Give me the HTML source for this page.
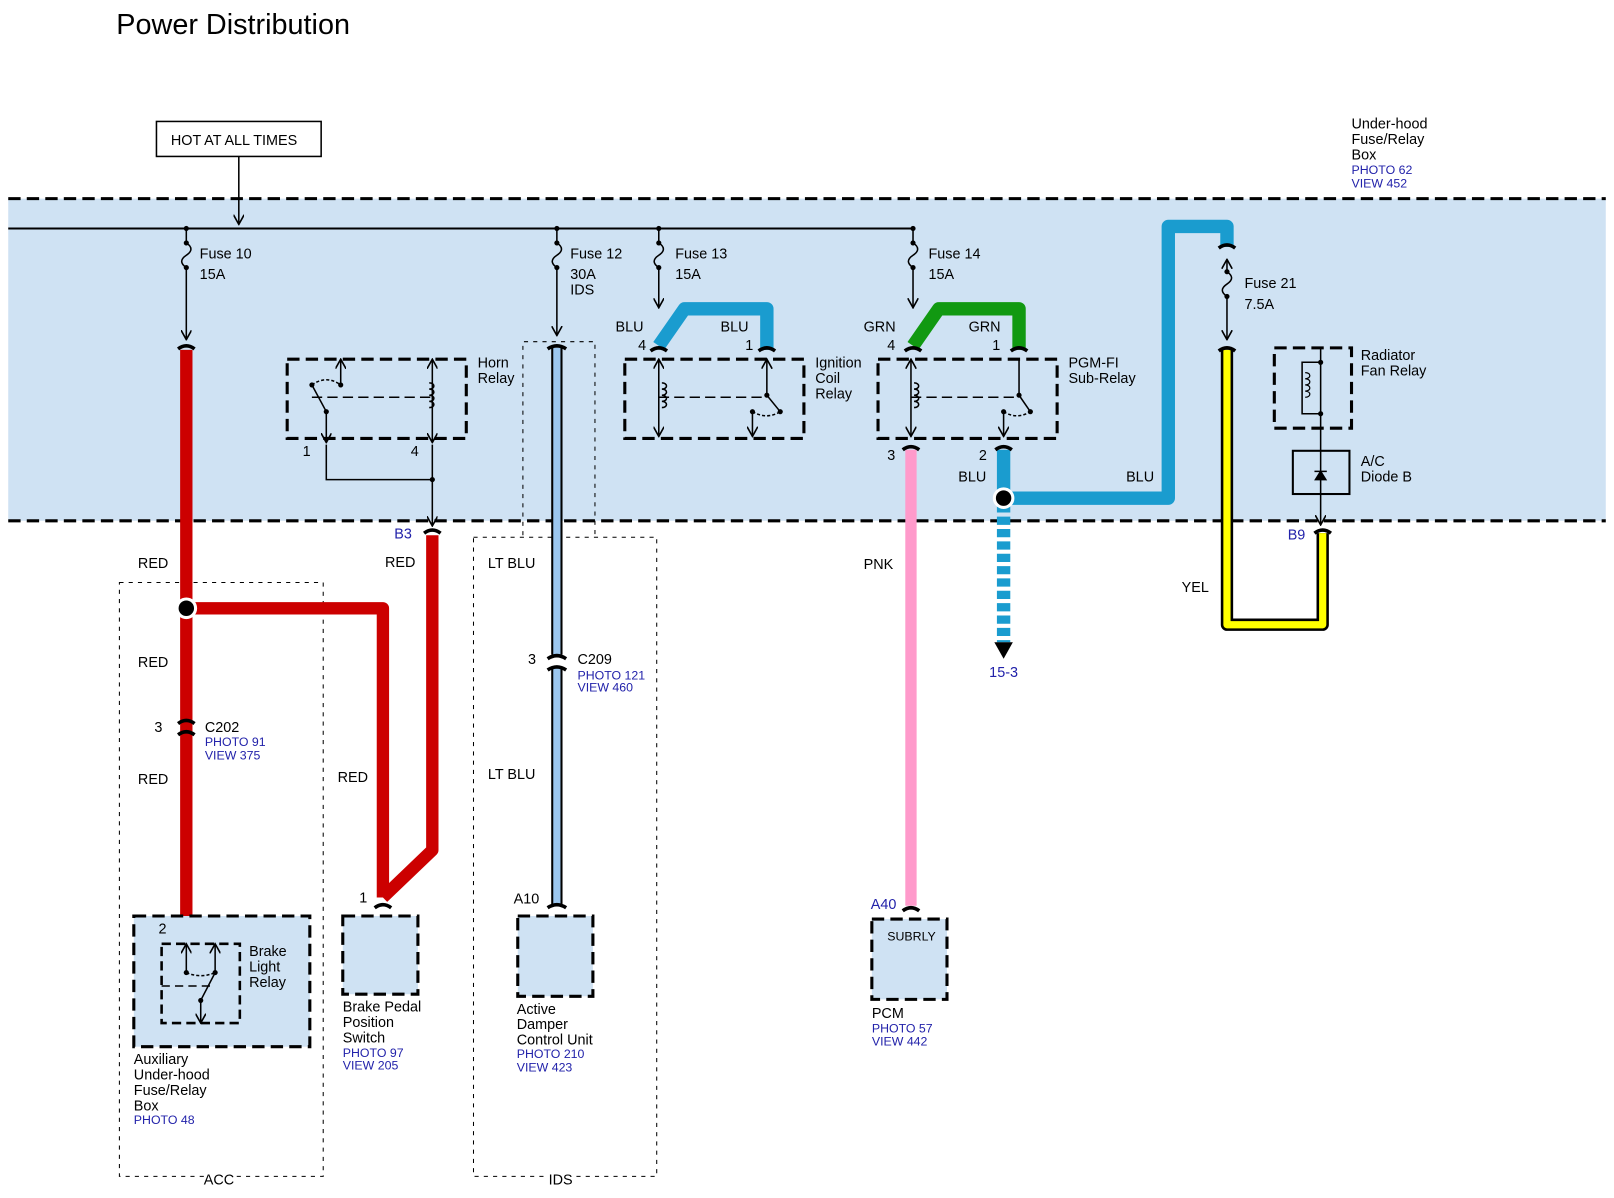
<!DOCTYPE html>
<html><head><meta charset="utf-8"><style>
html,body{margin:0;padding:0;background:#fff;}
svg{display:block;}
text{font-family:"Liberation Sans",Arial,sans-serif;font-size:14px;fill:#000;}
.b{fill:#2222aa;font-size:12px;}
.d{fill:none;stroke:#000;stroke-width:3;stroke-dasharray:12,6;}
.t{fill:none;stroke:#000;stroke-width:1;stroke-dasharray:4,5;}
.l{fill:none;stroke:#000;stroke-width:1.5;}
.c{fill:none;stroke:#000;stroke-width:3.5;}
</style></head><body>
<svg width="1614" height="1198" viewBox="0 0 1568 1164" preserveAspectRatio="none" xmlns="http://www.w3.org/2000/svg">
<defs>
<marker id="a" viewBox="0 0 10 10" refX="9" refY="5" markerWidth="7" markerHeight="7" orient="auto-start-reverse"><path d="M0 0 L9 5 L0 10" fill="none" stroke="#000" stroke-width="1.5"/></marker>
</defs>
<text x="113" y="33" style="font-size:28px">Power Distribution</text>
<rect x="8" y="193" width="1552" height="313" fill="#cfe2f3"/>
<line x1="8" y1="193" x2="1560" y2="193" class="d"/>
<line x1="8" y1="506" x2="1560" y2="506" class="d"/>
<rect x="152" y="118" width="160" height="34" fill="#fff" stroke="#000" stroke-width="1.5"/>
<text x="166" y="141">HOT AT ALL TIMES</text>
<line x1="232" y1="152" x2="232" y2="218" class="l" marker-end="url(#a)"/>
<text x="1313" y="125">Under-hood</text><text x="1313" y="140">Fuse/Relay</text><text x="1313" y="155">Box</text>
<text x="1313" y="169" class="b">PHOTO 62</text><text x="1313" y="182" class="b">VIEW 452</text>
<line x1="8" y1="222" x2="887" y2="222" stroke="#000" stroke-width="2"/>
<g class="l">
<path d="M181 222 V236 c6 4 6 8 0 12 c-6 4 -6 8 0 12 V330" marker-end="url(#a)"/>
<path d="M541 222 V236 c6 4 6 8 0 12 c-6 4 -6 8 0 12 V326" marker-end="url(#a)"/>
<path d="M640 222 V236 c6 4 6 8 0 12 c-6 4 -6 8 0 12 V299" marker-end="url(#a)"/>
<path d="M887 222 V236 c6 4 6 8 0 12 c-6 4 -6 8 0 12 V299" marker-end="url(#a)"/>
<path d="M1192 252 V264 c6 4 6 8 0 12 c-6 4 -6 8 0 12 V330" marker-end="url(#a)" marker-start="url(#a)"/>
</g>
<g fill="#000"><circle cx="181" cy="222" r="2.5"/><circle cx="541" cy="222" r="2.5"/><circle cx="640" cy="222" r="2.5"/><circle cx="887" cy="222" r="2.5"/>
<circle cx="181" cy="236" r="2.5"/><circle cx="181" cy="260" r="2.5"/><circle cx="541" cy="236" r="2.5"/><circle cx="541" cy="260" r="2.5"/><circle cx="640" cy="236" r="2.5"/><circle cx="640" cy="260" r="2.5"/><circle cx="887" cy="236" r="2.5"/><circle cx="887" cy="260" r="2.5"/><circle cx="1192" cy="264" r="2.5"/><circle cx="1192" cy="288" r="2.5"/></g>
<text x="194" y="251">Fuse 10</text><text x="194" y="271">15A</text>
<text x="554" y="251">Fuse 12</text><text x="554" y="271">30A</text><text x="554" y="286">IDS</text>
<text x="656" y="251">Fuse 13</text><text x="656" y="271">15A</text>
<text x="902" y="251">Fuse 14</text><text x="902" y="271">15A</text>
<text x="1209" y="280">Fuse 21</text><text x="1209" y="300">7.5A</text>
<path d="M508 520 V332 H578 V520" class="t"/>
<rect x="460" y="522" width="178" height="621" class="t"/>
<rect x="116" y="566" width="198" height="577" class="t"/>
<rect x="200" y="1138" width="26" height="12" fill="#fff"/><text x="198" y="1151">ACC</text>
<rect x="530" y="1138" width="28" height="12" fill="#fff"/><text x="533" y="1151">IDS</text>
<g fill="none" stroke="#cc0000" stroke-width="12" stroke-linejoin="round">
<path d="M181 340 V906"/>
<path d="M181 591 H372 V872"/>
<path d="M420 520 V826 L372 872"/>
</g>
<circle cx="181" cy="591" r="9" fill="#000" stroke="#fff" stroke-width="3"/>
<line x1="541" y1="338" x2="541" y2="880" stroke="#000" stroke-width="11"/>
<line x1="541" y1="338" x2="541" y2="880" stroke="#9cc7ef" stroke-width="7"/>
<rect x="530" y="636" width="22" height="12" fill="#fff"/>
<g fill="none" stroke="#1a9ccf" stroke-width="13" stroke-linejoin="round">
<path d="M640 336 L665 300 H745 V340"/>
<path d="M975 437 V484 H1135 V220 H1192 V240"/>
<path d="M975 490 V624" stroke-dasharray="8,4"/>
</g>
<path d="M966 624 H984 L975 640 Z" fill="#000"/>
<text x="961" y="658" class="b" style="font-size:14px">15-3</text>
<circle cx="975" cy="484" r="9" fill="#000" stroke="#fff" stroke-width="3"/>
<path d="M887 336 L912 300 H990 V340" fill="none" stroke="#119911" stroke-width="13" stroke-linejoin="round"/>
<line x1="885" y1="437" x2="885" y2="880" stroke="#ff9acb" stroke-width="11"/>
<path d="M1192 340 V607 H1285 V518" fill="none" stroke="#000" stroke-width="12" stroke-linejoin="round"/>
<path d="M1192 340 V607 H1285 V518" fill="none" stroke="#ffff00" stroke-width="7" stroke-linejoin="round"/>
<g class="c">
<path d="M173 339 q8 -6 16 0"/><path d="M532 339 q9 -6 18 0"/><path d="M632 341 q8 -6 16 0"/><path d="M737 341 q8 -6 16 0"/>
<path d="M879 341 q8 -6 16 0"/><path d="M982 341 q8 -6 16 0"/><path d="M877 437 q8 -6 16 0"/><path d="M967 437 q8 -6 16 0"/>
<path d="M1184 241 q8 -6 16 0"/><path d="M1184 341 q8 -6 16 0"/><path d="M412 518 q8 -6 16 0"/><path d="M1277 518 q8 -6 16 0"/>
<path d="M173 703 q8 -6 16 0"/><path d="M173 714 q8 -6 16 0"/><path d="M532 640 q9 -6 18 0"/><path d="M532 651 q9 -6 18 0"/>
<path d="M173 909 q8 -6 16 0"/><path d="M364 882 q8 -6 16 0"/><path d="M532 882 q9 -6 18 0"/><path d="M877 885 q8 -6 16 0"/>
</g>
<text x="598" y="322">BLU</text><text x="700" y="322">BLU</text><text x="839" y="322">GRN</text><text x="941" y="322">GRN</text>
<text x="620" y="340">4</text><text x="724" y="340">1</text><text x="862" y="340">4</text><text x="964" y="340">1</text>
<text x="862" y="447">3</text><text x="951" y="447">2</text><text x="931" y="468">BLU</text><text x="1094" y="468">BLU</text>
<text x="134" y="552">RED</text><text x="374" y="551">RED</text><text x="474" y="552">LT BLU</text><text x="839" y="553">PNK</text><text x="1148" y="575">YEL</text>
<text x="134" y="648">RED</text><text x="134" y="762">RED</text><text x="328" y="760">RED</text><text x="474" y="757">LT BLU</text>
<text x="383" y="523" class="b" style="font-size:14px">B3</text><text x="1251" y="524" class="b" style="font-size:14px">B9</text>
<text x="150" y="711">3</text><text x="199" y="711">C202</text><text x="199" y="725" class="b">PHOTO 91</text><text x="199" y="738" class="b">VIEW 375</text>
<text x="513" y="645">3</text><text x="561" y="645">C209</text><text x="561" y="660" class="b">PHOTO 121</text><text x="561" y="672" class="b">VIEW 460</text>
<rect x="279" y="349" width="174" height="77" class="d"/>
<g class="l">
<path d="M331 374 V349" marker-end="url(#a)"/><path d="M303 374 q14 -10 28 0" stroke-dasharray="3,2"/><path d="M303 374 L317 400 V430" marker-end="url(#a)"/>
<path d="M303 386 H420" stroke-dasharray="10,5"/>
<path d="M420 349 V430" marker-start="url(#a)" marker-end="url(#a)"/>
<path d="M417 372 c6 0 6 6 0 6 c6 0 6 6 0 6 c6 0 6 6 0 6 c6 0 6 6 0 6"/>
<path d="M317 432 V466 H420"/><path d="M420 432 V511" marker-end="url(#a)"/>
</g>
<circle cx="331" cy="374" r="2.5"/><circle cx="303" cy="374" r="2.5"/><circle cx="317" cy="400" r="2.5"/><circle cx="420" cy="466" r="2.5"/>
<text x="464" y="357">Horn</text><text x="464" y="372">Relay</text><text x="294" y="443">1</text><text x="399" y="443">4</text>
<rect x="607" y="349" width="174" height="77" class="d"/>
<g class="l"><path d="M640 349 V424" marker-start="url(#a)" marker-end="url(#a)"/><path d="M643 372 c6 0 6 6 0 6 c6 0 6 6 0 6 c6 0 6 6 0 6 c6 0 6 6 0 6"/><path d="M640 386 H745" stroke-dasharray="10,5"/><path d="M745 349 V384 L758 400" marker-start="url(#a)"/><path d="M731 400 V424" marker-end="url(#a)"/><path d="M731 400 q14 8 27 0" stroke-dasharray="3,2"/></g>
<circle cx="758" cy="400" r="2.5"/><circle cx="731" cy="400" r="2.5"/><circle cx="745" cy="384" r="2.5"/>
<text x="792" y="357">Ignition</text><text x="792" y="372">Coil</text><text x="792" y="387">Relay</text>
<rect x="853" y="349" width="174" height="77" class="d"/>
<g class="l"><path d="M885 349 V424" marker-start="url(#a)" marker-end="url(#a)"/><path d="M888 372 c6 0 6 6 0 6 c6 0 6 6 0 6 c6 0 6 6 0 6 c6 0 6 6 0 6"/><path d="M885 386 H990" stroke-dasharray="10,5"/><path d="M990 349 V384 L1001 400"/><path d="M975 400 V424" marker-end="url(#a)"/><path d="M975 400 q13 8 26 0" stroke-dasharray="3,2"/></g>
<circle cx="1001" cy="400" r="2.5"/><circle cx="975" cy="400" r="2.5"/><circle cx="990" cy="384" r="2.5"/>
<text x="1038" y="357">PGM-FI</text><text x="1038" y="372">Sub-Relay</text>
<rect x="1238" y="338" width="75" height="78" class="d"/>
<g class="l"><path d="M1265 352 H1283 V402 H1265 Z"/><path d="M1268 362 c6 0 6 6 0 6 c6 0 6 6 0 6 c6 0 6 6 0 6 c6 0 6 6 0 6" stroke-width="1.2"/><path d="M1283 338 V352"/><path d="M1283 402 V438"/><rect x="1256" y="438" width="55" height="42" stroke-width="2"/><path d="M1283 480 V510" marker-end="url(#a)"/><path d="M1283 438 V480"/><path d="M1277 458 H1289 M1278 466 H1288 L1283 458 Z" fill="#000"/></g>
<circle cx="1283" cy="352" r="2.5"/><circle cx="1283" cy="402" r="2.5"/>
<text x="1322" y="350">Radiator</text><text x="1322" y="365">Fan Relay</text><text x="1322" y="453">A/C</text><text x="1322" y="468">Diode B</text>
<rect x="130" y="890" width="171" height="127" class="d" style="fill:#cfe2f3"/>
<rect x="157" y="917" width="76" height="77" class="d" style="stroke-width:2.5;stroke-dasharray:9,5"/>
<g class="l"><path d="M181 945 V917" marker-end="url(#a)"/><path d="M209 945 V917" marker-end="url(#a)"/><path d="M181 945 q14 6 28 0" stroke-dasharray="3,2"/><path d="M209 945 L195 972 V994" marker-end="url(#a)"/><path d="M157 958 H205" stroke-dasharray="8,5"/></g>
<circle cx="181" cy="945" r="2.5"/><circle cx="209" cy="945" r="2.5"/><circle cx="195" cy="972" r="2.5"/>
<text x="154" y="907">2</text>
<text x="242" y="929">Brake</text><text x="242" y="944">Light</text><text x="242" y="959">Relay</text>
<text x="130" y="1034">Auxiliary</text><text x="130" y="1049">Under-hood</text><text x="130" y="1064">Fuse/Relay</text><text x="130" y="1079">Box</text><text x="130" y="1092" class="b">PHOTO 48</text>
<rect x="333" y="890" width="73" height="76" class="d" style="fill:#cfe2f3"/>
<text x="349" y="877">1</text>
<text x="333" y="983">Brake Pedal</text><text x="333" y="998">Position</text><text x="333" y="1013">Switch</text><text x="333" y="1027" class="b">PHOTO 97</text><text x="333" y="1039" class="b">VIEW 205</text>
<rect x="503" y="890" width="73" height="78" class="d" style="fill:#cfe2f3"/>
<text x="499" y="878">A10</text>
<text x="502" y="985">Active</text><text x="502" y="1000">Damper</text><text x="502" y="1015">Control Unit</text><text x="502" y="1028" class="b">PHOTO 210</text><text x="502" y="1041" class="b">VIEW 423</text>
<rect x="847" y="893" width="73" height="78" class="d" style="fill:#cfe2f3"/>
<text x="846" y="883" class="b" style="font-size:14px">A40</text>
<text x="862" y="914" style="font-size:12px">SUBRLY</text>
<text x="847" y="989">PCM</text><text x="847" y="1003" class="b">PHOTO 57</text><text x="847" y="1016" class="b">VIEW 442</text>
</svg>
</body></html>
